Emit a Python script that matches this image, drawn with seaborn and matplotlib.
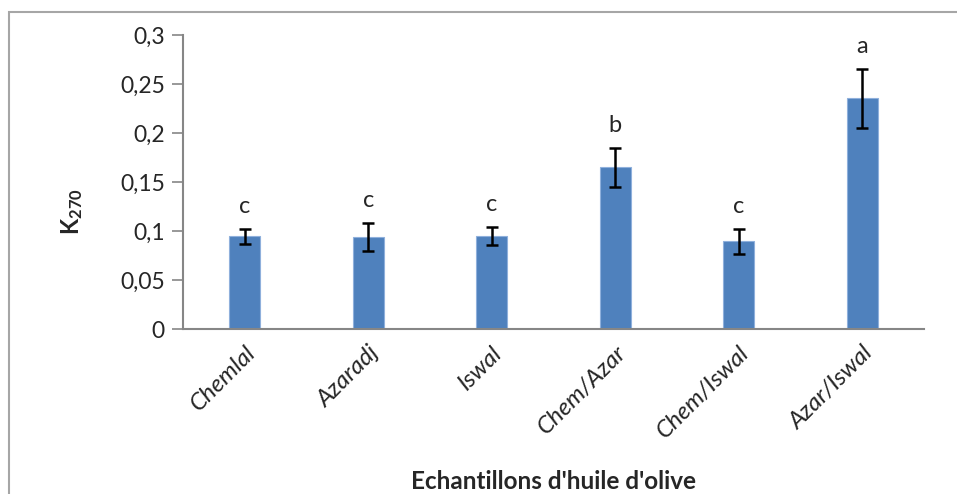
import matplotlib
matplotlib.use("Agg")
import matplotlib.pyplot as plt
import seaborn as sns
import pandas as pd
from matplotlib.patches import Rectangle
from matplotlib.ticker import FuncFormatter

categories = ["Chemlal", "Azaradj", "Iswal", "Chem/Azar", "Chem/Iswal", "Azar/Iswal"]
k270_mean = [0.0945, 0.094, 0.095, 0.165, 0.0895, 0.2355]
k270_err = [0.0075, 0.0145, 0.0095, 0.020, 0.0125, 0.030]
letters = ["c", "c", "c", "b", "c", "a"]
yticks = [0, 0.05, 0.1, 0.15, 0.2, 0.25, 0.3]

sns.set_style("white")
plt.rcParams['font.family'] = ['Lato', 'DejaVu Sans']
plt.rcParams['mathtext.fontset'] = 'custom'
plt.rcParams['mathtext.bf'] = 'Lato:bold'
plt.rcParams['mathtext.rm'] = 'Lato'

df = pd.DataFrame({"cat": categories, "val": k270_mean})

fig = plt.figure(figsize=(9.57, 4.94), dpi=100)
ax = fig.add_axes([183/957, 1-329/494, (924-183)/957, (329-35)/494])

sns.barplot(data=df, x="cat", y="val", color="#4F81BD", saturation=1,
            width=0.25, errorbar=None, ax=ax, edgecolor="#8fb0dc", linewidth=0.8)
ax.errorbar(x=list(range(len(categories))), y=k270_mean, yerr=k270_err,
            fmt="none", ecolor="black", elinewidth=1.8, capsize=4.5, capthick=1.8)

for i, (m, e, l) in enumerate(zip(k270_mean, k270_err, letters)):
    ax.text(i, m + e + 0.012, l, ha="center", va="bottom", fontsize=17)

ax.set_ylim(0, 0.3)
ax.set_xlim(-0.5, len(categories) - 0.5)
ax.set_yticks(yticks)
ax.yaxis.set_major_formatter(FuncFormatter(lambda v, p: ("%g" % v).replace(".", ",")))
ax.tick_params(axis="y", which="major", left=True, length=8, width=1.2,
               color="#868686", labelsize=16.5, pad=5)
ax.tick_params(axis="x", bottom=False, labelsize=17.5, pad=6)
for lab in ax.get_xticklabels():
    lab.set_rotation(45)
    lab.set_ha("right")
    lab.set_rotation_mode("anchor")
    lab.set_style("italic")

for s in ["top", "right"]:
    ax.spines[s].set_visible(False)
for s in ["left", "bottom"]:
    ax.spines[s].set_color("#868686")
    ax.spines[s].set_linewidth(1.5)

ax.set_xlabel("Echantillons d'huile d'olive", fontsize=17.5, fontweight="bold")
ax.set_ylabel(r"$\mathbf{K_{270}}$", fontsize=17)
ax.yaxis.set_label_coords(-0.132, 0.4)
ax.xaxis.set_label_coords(0.5, -0.478)

fig.patches.append(Rectangle((9/957, -0.1), 1.2, 1 - 12/494 + 0.1, transform=fig.transFigure,
                             fill=False, edgecolor="#a6a6a6", linewidth=1.5))

fig.savefig("out.png", dpi=100)
